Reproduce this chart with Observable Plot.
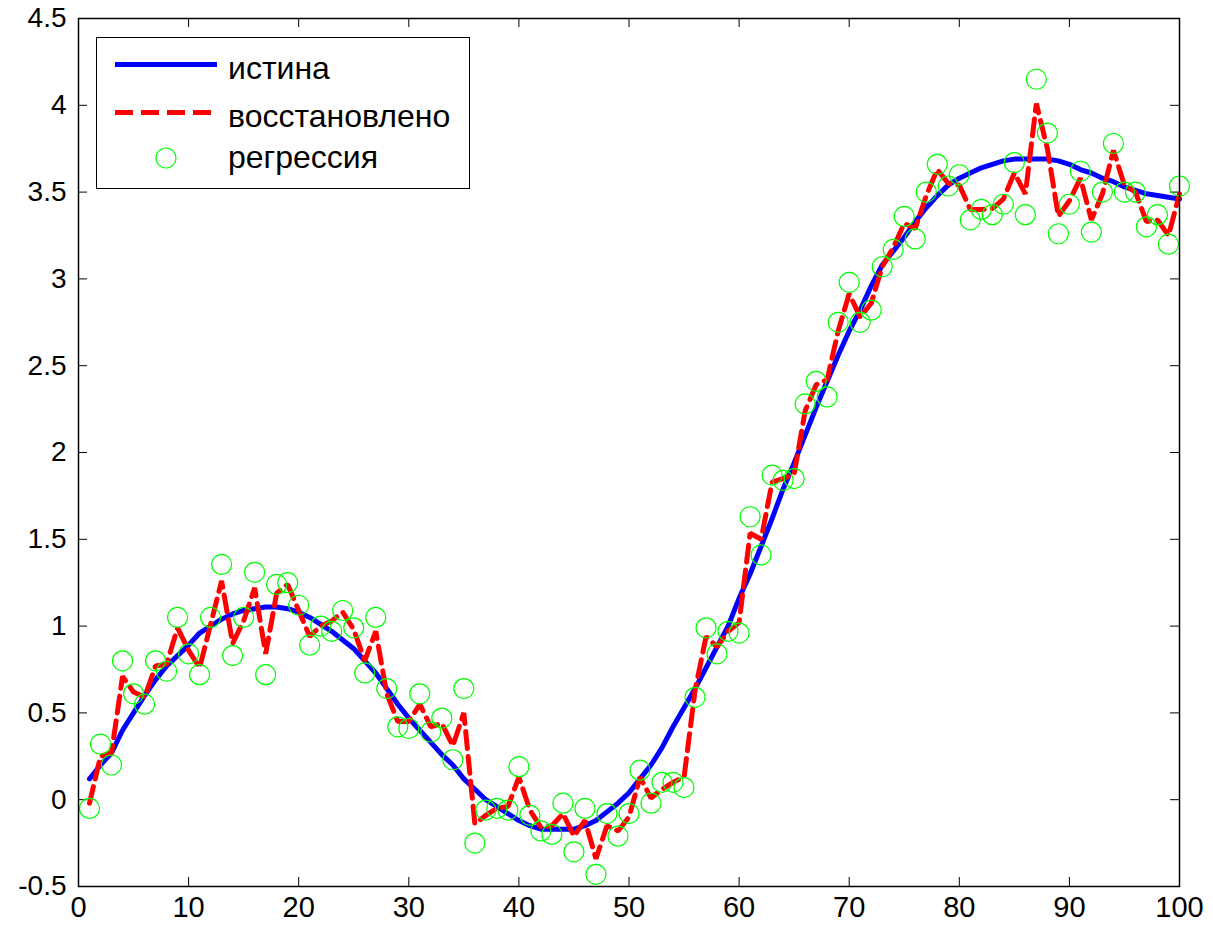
<!DOCTYPE html>
<html>
<head>
<meta charset="utf-8">
<script src="https://cdn.jsdelivr.net/npm/d3@7"></script>
<script src="https://cdn.jsdelivr.net/npm/@observablehq/plot@0.6"></script>
<style>
  html, body { margin: 0; padding: 0; background: #fff; }
  #wrap { position: relative; width: 1213px; height: 934px; font-family: "Liberation Sans", Arial, sans-serif; }
  #legend { position: absolute; left: 96px; top: 37px; }
</style>
</head>
<body>
<div id="wrap"></div>
<script>
// истина (true curve), x = 1..100
const trueVals = [
  0.12, 0.20, 0.27, 0.40, 0.50, 0.60, 0.69, 0.77, 0.83, 0.89,
  0.96, 1.00, 1.04, 1.07, 1.09, 1.10, 1.11, 1.11, 1.10, 1.08,
  1.05, 1.01, 0.97, 0.92, 0.87, 0.80, 0.73, 0.64, 0.55, 0.47,
  0.40, 0.33, 0.26, 0.20, 0.12, 0.06, 0.00, -0.04, -0.08, -0.12,
  -0.15, -0.17, -0.17, -0.17, -0.17, -0.15, -0.12, -0.07, -0.02, 0.04,
  0.12, 0.20, 0.30, 0.42, 0.53, 0.64, 0.76, 0.88, 1.00, 1.16,
  1.30, 1.46, 1.62, 1.79, 1.94, 2.10, 2.26, 2.41, 2.56, 2.70,
  2.82, 2.96, 3.08, 3.16, 3.24, 3.33, 3.41, 3.48, 3.54, 3.58,
  3.61, 3.64, 3.66, 3.68, 3.69, 3.69, 3.69, 3.69, 3.68, 3.66,
  3.63, 3.61, 3.58, 3.56, 3.53, 3.51, 3.49, 3.48, 3.47, 3.46
];
// восстановлено (reconstructed, dashed)
const recVals = [
  -0.02, 0.25, 0.27, 0.71, 0.62, 0.59, 0.77, 0.78, 0.99, 0.86,
  0.76, 1.01, 1.26, 0.90, 1.03, 1.22, 0.84, 1.19, 1.24, 1.09,
  0.94, 1.00, 1.03, 1.08, 0.98, 0.80, 0.97, 0.61, 0.45, 0.45,
  0.55, 0.42, 0.44, 0.31, 0.50, -0.14, -0.09, -0.05, -0.04, 0.13,
  -0.06, -0.16, -0.15, -0.08, -0.21, -0.12, -0.34, -0.15, -0.18, -0.10,
  0.13, 0.01, 0.06, 0.10, 0.13, 0.63, 0.94, 0.88, 0.97, 1.02,
  1.535, 1.50, 1.83, 1.85, 1.875, 2.24, 2.39, 2.42, 2.70, 2.915,
  2.78, 2.86, 3.07, 3.18, 3.32, 3.29, 3.48, 3.63, 3.55, 3.54,
  3.40, 3.40, 3.405, 3.46, 3.61, 3.49, 4.01, 3.75, 3.36, 3.45,
  3.58, 3.34, 3.49, 3.74, 3.54, 3.50, 3.33, 3.34, 3.25, 3.49
];
// регрессия (circles)
const regVals = [
  -0.05, 0.32, 0.20, 0.80, 0.61, 0.55, 0.80, 0.74, 1.05, 0.84,
  0.72, 1.05, 1.355, 0.83, 1.05, 1.31, 0.72, 1.24, 1.25, 1.12,
  0.89, 1.00, 0.97, 1.09, 0.99, 0.73, 1.05, 0.64, 0.42, 0.41,
  0.61, 0.39, 0.47, 0.23, 0.64, -0.25, -0.06, -0.05, -0.06, 0.19,
  -0.09, -0.18, -0.20, -0.02, -0.30, -0.05, -0.43, -0.08, -0.21, -0.08,
  0.17, -0.02, 0.10, 0.10, 0.07, 0.59, 0.99, 0.84, 0.97, 0.96,
  1.63, 1.41, 1.87, 1.84, 1.85, 2.28, 2.41, 2.32, 2.75, 2.98,
  2.75, 2.82, 3.07, 3.17, 3.36, 3.23, 3.50, 3.66, 3.535, 3.60,
  3.34, 3.40, 3.37, 3.43, 3.67, 3.37, 4.15, 3.84, 3.26, 3.43,
  3.62, 3.27, 3.50, 3.78, 3.50, 3.50, 3.30, 3.37, 3.20, 3.535
];
const xTicks = [0, 10, 20, 30, 40, 50, 60, 70, 80, 90, 100];
const yTicks = [-0.5, 0, 0.5, 1, 1.5, 2, 2.5, 3, 3.5, 4, 4.5];
const legendLabels = ["истина", "восстановлено", "регрессия"];

const W = 1213, H = 934;
const mL = 78, mR = 34, mT = 18, mB = 48;
const plotW = W - mL - mR, plotH = H - mT - mB;
const tickLen = 9;

const trueData = trueVals.map((v, i) => ({x: i + 1, y: v}));
const recData = recVals.map((v, i) => ({x: i + 1, y: v}));
const regData = regVals.map((v, i) => ({x: i + 1, y: v}));

const chart = Plot.plot({
  width: W, height: H,
  marginLeft: mL, marginRight: mR, marginTop: mT, marginBottom: mB,
  style: {fontFamily: '"Liberation Sans", Arial, sans-serif', fontSize: "28px", color: "#000", background: "#fff"},
  x: {domain: [0, 100], label: null},
  y: {domain: [-0.5, 4.5], label: null},
  marks: [
    Plot.axisX(xTicks, {tickSize: 0, tickPadding: 10, tickFormat: d => String(d), fontSize: 29, fill: "#000", label: null}),
    Plot.axisY(yTicks, {tickSize: 0, tickPadding: 12, tickFormat: d => String(d), fontSize: 28, fill: "#000", label: null}),
    // inward ticks on four sides
    Plot.tickX(xTicks, {x: d => d, insetTop: plotH - tickLen, stroke: "#000"}),
    Plot.tickX(xTicks, {x: d => d, insetBottom: plotH - tickLen, stroke: "#000"}),
    Plot.tickY(yTicks, {y: d => d, insetRight: plotW - tickLen, stroke: "#000"}),
    Plot.tickY(yTicks, {y: d => d, insetLeft: plotW - tickLen, stroke: "#000"}),
    Plot.line(trueData, {x: "x", y: "y", stroke: "#0000ff", strokeWidth: 5, strokeLinejoin: "round"}),
    Plot.line(recData, {x: "x", y: "y", stroke: "#ff0000", strokeWidth: 5, strokeDasharray: "17,8", strokeLinejoin: "miter"}),
    Plot.dot(regData, {x: "x", y: "y", r: 10, stroke: "#00ff00", strokeWidth: 1.2, fill: "none"}),
    Plot.frame({stroke: "#000", strokeWidth: 1.5})
  ]
});
const wrap = document.getElementById("wrap");
wrap.appendChild(chart);

// legend
const ns = "http://www.w3.org/2000/svg";
const lg = document.createElementNS(ns, "svg");
lg.setAttribute("id", "legend");
lg.setAttribute("width", 375);
lg.setAttribute("height", 153);
lg.innerHTML = `
  <rect x="0.5" y="0.5" width="373" height="151" fill="#fff" stroke="#000" stroke-width="1"/>
  <line x1="19" x2="121" y1="27.5" y2="27.5" stroke="#0000ff" stroke-width="5"/>
  <line x1="19" x2="121" y1="75.5" y2="75.5" stroke="#ff0000" stroke-width="5" stroke-dasharray="18,8"/>
  <circle cx="70" cy="121" r="10" fill="none" stroke="#00ff00" stroke-width="1.2"/>
`;
legendLabels.forEach((t, i) => {
  const tx = document.createElementNS(ns, "text");
  tx.setAttribute("x", 132);
  tx.setAttribute("y", [42, 90, 131][i]);
  tx.setAttribute("font-size", 32);
  tx.setAttribute("font-family", '"Liberation Sans", Arial, sans-serif');
  tx.setAttribute("fill", "#000");
  tx.textContent = t;
  lg.appendChild(tx);
});
wrap.appendChild(lg);
</script>
</body>
</html>
